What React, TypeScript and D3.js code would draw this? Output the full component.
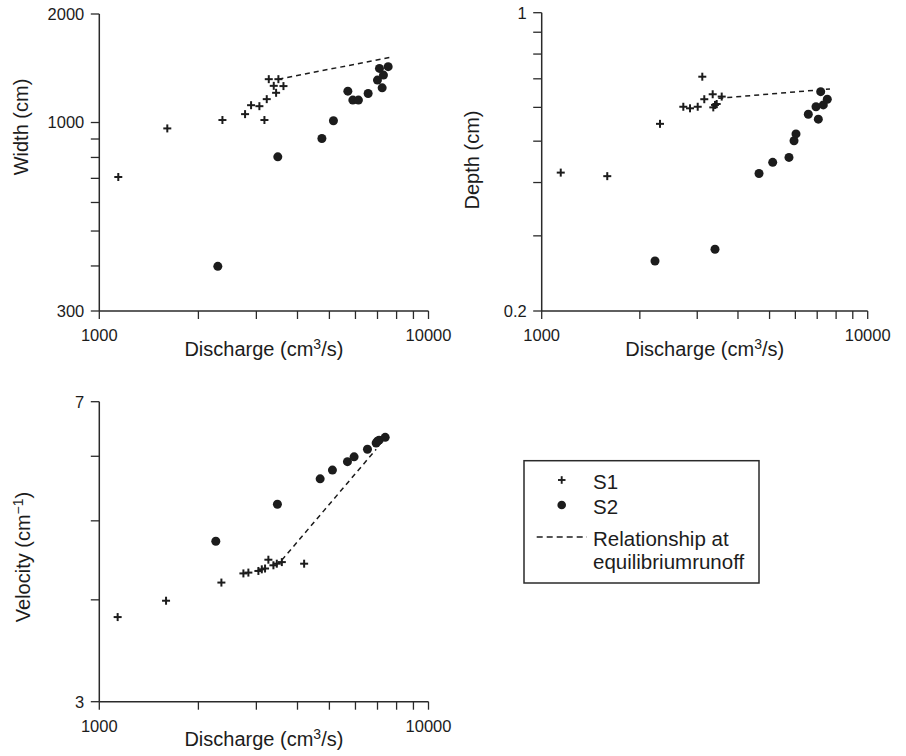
import React from "react";
import * as d3 from "d3";

// ---------- DATA ----------
const xTickValues = [1000, 2000, 3000, 4000, 5000, 6000, 7000, 8000, 9000, 10000];
const xTickLabels = ["1000", "10000"];

const widthTicks = [300, 400, 500, 600, 700, 800, 900, 1000, 2000];
const widthTickLabels = ["300", "1000", "2000"];
const depthTicks = [0.2, 0.3, 0.4, 0.5, 0.6, 0.7, 0.8, 0.9, 1];
const depthTickLabels = ["0.2", "1"];
const velTicks = [3, 4, 5, 6, 7];
const velTickLabels = ["3", "7"];

const widthS1Q = [1142, 1609, 2366, 2772, 2891, 3064, 3174, 3226, 3272, 3388, 3500, 3444, 3626];
const widthS1 = [706, 963, 1016, 1055, 1117, 1110, 1016, 1161, 1319, 1264, 1319, 1209, 1262];
const widthS2Q = [2291, 3485, 4744, 5143, 5689, 5890, 6126, 6556, 6998, 7232, 7096, 7298, 7542];
const widthS2 = [399, 803, 903, 1011, 1222, 1154, 1154, 1204, 1311, 1248, 1413, 1354, 1429];
const widthEqQ = [3500, 7650];
const widthEq = [1319, 1516];

const depthS1Q = [1144, 1589, 2306, 2719, 2851, 3010, 3109, 3153, 3346, 3360, 3401, 3442, 3566];
const depthS1 = [0.422, 0.414, 0.549, 0.602, 0.597, 0.602, 0.708, 0.627, 0.644, 0.6, 0.608, 0.611, 0.636];
const depthS2Q = [2226, 3401, 4641, 5112, 5735, 5943, 6026, 6574, 6941, 7056, 7309, 7175, 7516];
const depthS2 = [0.262, 0.279, 0.42, 0.446, 0.458, 0.501, 0.52, 0.578, 0.602, 0.563, 0.608, 0.653, 0.627];
const depthEqQ = [3481, 7660];
const depthEq = [0.63, 0.6625];

const velS1Q = [1137, 1595, 2349, 2740, 2837, 3043, 3116, 3188, 3263, 3380, 3461, 3585, 4190];
const velS1 = [3.81, 3.99, 4.2, 4.31, 4.32, 4.34, 4.36, 4.37, 4.48, 4.41, 4.43, 4.45, 4.43];
const velS2Q = [2259, 3476, 4687, 5107, 5673, 5943, 6525, 6934, 6998, 7080, 7387];
const velS2 = [4.72, 5.24, 5.63, 5.77, 5.91, 5.99, 6.12, 6.23, 6.26, 6.28, 6.33];
const velEqQ = [3585, 6934];
const velEq = [4.475, 6.12];

const legendLabels = ["S1", "S2", "Relationship at", "equilibriumrunoff"];

// ---------- STYLE ----------
const FONT = "'Liberation Sans', Arial, Helvetica, sans-serif";
const INK = "#1c1c1c";
const AXIS = "#2a2a2a";
const TICK_FS = 16.5;
const TITLE_FS = 20;

type PanelProps = {
  x0: number; x1: number; yTop: number; yBot: number;
  yDomain: [number, number];
  yTicks: number[]; yLabels: string[];
  s1q: number[]; s1: number[]; s2q: number[]; s2: number[];
  eqq: number[]; eq: number[];
  yTitle: React.ReactNode; yTitleX: number; yTitleY: number;
};

function Panel(p: PanelProps) {
  const x = d3.scaleLog().domain([1000, 10000]).range([p.x0, p.x1]);
  const y = d3.scaleLog().domain(p.yDomain).range([p.yBot, p.yTop]);
  const line = d3.line<[number, number]>().x((d) => x(d[0])).y((d) => y(d[1]));
  const eqPts: [number, number][] = p.eqq.map((q, i) => [q, p.eq[i]]);
  return (
    <g>
      <line x1={p.x0} x2={p.x0} y1={p.yTop} y2={p.yBot} stroke={AXIS} strokeWidth={1.5} />
      <line x1={p.x0} x2={p.x1} y1={p.yBot} y2={p.yBot} stroke={AXIS} strokeWidth={1.5} />
      {p.yTicks.map((t) => (
        <g key={"yt" + t}>
          <line x1={p.x0 - 8.5} x2={p.x0} y1={y(t)} y2={y(t)} stroke={AXIS} strokeWidth={1.3} />
          {p.yLabels.includes(String(t)) && (
            <text x={p.x0 - 15} y={y(t)} dy="0.36em" textAnchor="end" fontSize={TICK_FS} fill={INK}>
              {String(t)}
            </text>
          )}
        </g>
      ))}
      {xTickValues.map((t) => (
        <g key={"xt" + t}>
          <line x1={x(t)} x2={x(t)} y1={p.yBot} y2={p.yBot + 8} stroke={AXIS} strokeWidth={1.3} />
          {xTickLabels.includes(String(t)) && (
            <text x={x(t)} y={p.yBot + 30} textAnchor="middle" fontSize={TICK_FS} fill={INK}>
              {String(t)}
            </text>
          )}
        </g>
      ))}
      <text x={(p.x0 + p.x1) / 2} y={p.yBot + 44.5} textAnchor="middle" fontSize={TITLE_FS} fill={INK}>
        Discharge (cm<tspan dy={-7} fontSize={14}>3</tspan>
        <tspan dy={7}>/s)</tspan>
      </text>
      <text
        transform={`translate(${p.yTitleX},${p.yTitleY}) rotate(-90)`}
        textAnchor="middle"
        fontSize={TITLE_FS}
        fill={INK}
      >
        {p.yTitle}
      </text>
      <path d={line(eqPts) || ""} fill="none" stroke={INK} strokeWidth={1.5} strokeDasharray="5,4" />
      {p.s2q.map((q, i) => (
        <circle key={"c" + i} cx={x(q)} cy={y(p.s2[i])} r={4.5} fill={INK} />
      ))}
      {p.s1q.map((q, i) => {
        const cx = x(q);
        const cy = y(p.s1[i]);
        return (
          <g key={"p" + i} stroke={INK} strokeWidth={2}>
            <line x1={cx - 4} x2={cx + 4} y1={cy} y2={cy} />
            <line x1={cx} x2={cx} y1={cy - 4} y2={cy + 4} />
          </g>
        );
      })}
    </g>
  );
}

export default function App() {
  return (
    <svg
      width={906}
      height={756}
      style={{ position: "absolute", left: 0, top: 0, background: "#fff" }}
      fontFamily={FONT}
    >
      <rect x={0} y={0} width={906} height={756} fill="#fff" />
      <Panel
        x0={99.3} x1={428.5} yTop={14} yBot={311}
        yDomain={[300, 2000]} yTicks={widthTicks} yLabels={widthTickLabels}
        s1q={widthS1Q} s1={widthS1} s2q={widthS2Q} s2={widthS2}
        eqq={widthEqQ} eq={widthEq}
        yTitle={"Width (cm)"} yTitleX={28} yTitleY={127}
      />
      <Panel
        x0={541.7} x1={867.7} yTop={12.7} yBot={311}
        yDomain={[0.2, 1]} yTicks={depthTicks} yLabels={depthTickLabels}
        s1q={depthS1Q} s1={depthS1} s2q={depthS2Q} s2={depthS2}
        eqq={depthEqQ} eq={depthEq}
        yTitle={"Depth (cm)"} yTitleX={479} yTitleY={160}
      />
      <Panel
        x0={99.3} x1={428.5} yTop={401.7} yBot={701.7}
        yDomain={[3, 7]} yTicks={velTicks} yLabels={velTickLabels}
        s1q={velS1Q} s1={velS1} s2q={velS2Q} s2={velS2}
        eqq={velEqQ} eq={velEq}
        yTitle={
          <>
            Velocity (cm<tspan dy={-7} fontSize={14}>−1</tspan>
            <tspan dy={7}>)</tspan>
          </>
        }
        yTitleX={30} yTitleY={557}
      />
      <g>
        <rect x={524} y={460.7} width={235} height={122.3} fill="none" stroke={AXIS} strokeWidth={1.5} />
        <g stroke={INK} strokeWidth={1.9}>
          <line x1={558} x2={565.5} y1={480} y2={480} />
          <line x1={561.7} x2={561.7} y1={476.2} y2={483.8} />
        </g>
        <circle cx={561.7} cy={505} r={4.3} fill={INK} />
        <line x1={536.7} x2={587} y1={537} y2={537} stroke={INK} strokeWidth={1.5} strokeDasharray="6,4" />
        <text x={593} y={488.5} fontSize={20.5} fill={INK}>{legendLabels[0]}</text>
        <text x={593} y={514} fontSize={20.5} fill={INK}>{legendLabels[1]}</text>
        <text x={593} y={545.5} fontSize={20.5} fill={INK}>{legendLabels[2]}</text>
        <text x={593} y={568.5} fontSize={20.5} fill={INK}>{legendLabels[3]}</text>
      </g>
    </svg>
  );
}
